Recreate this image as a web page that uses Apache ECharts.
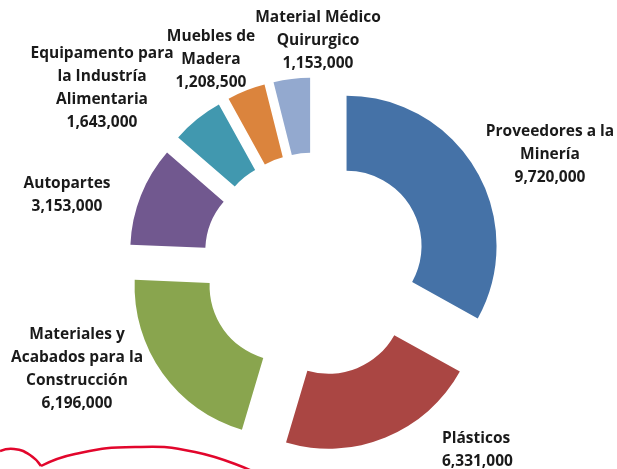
<!DOCTYPE html>
<html>
<head>
<meta charset="utf-8">
<script src="https://cdn.jsdelivr.net/npm/echarts@6/dist/echarts.min.js"></script>
<style>
html, body { margin: 0; padding: 0; background: #fff; }
#chart { width: 617px; height: 469px; }
</style>
</head>
<body>
<div id="chart"></div>
<script>
// sectores (etiquetas ya partidas en renglones como en la lamina)
var categories = [
    'Proveedores a la\nMinería',
    'Plásticos',
    'Materiales y\nAcabados para la\nConstrucción',
    'Autopartes',
    'Equipamento para\nla Industría\nAlimentaria',
    'Muebles de\nMadera',
    'Material Médico\nQuirurgico'
];
var values = [9720000, 6331000, 6196000, 3153000, 1643000, 1208500, 1153000];
var colors = ['#4572A7', '#AA4643', '#89A54E', '#71588F', '#4198AF', '#DB843D', '#93A9CF'];

// donde cae cada etiqueta: [x, y, alineacion]
var labelSpots = [
    [550, 155, 'center'],
    [442, 450, 'left'],
    [77, 369, 'center'],
    [67, 195, 'center'],
    [102, 88, 'center'],
    [211, 60, 'center'],
    [318, 41, 'center']
];

var chart = echarts.init(document.getElementById('chart'));

var pieData = categories.map(function (name, i) {
    return {
        name: name,
        value: values[i],
        selected: true,
        itemStyle: { color: colors[i] }
    };
});

// etiquetas como textos sueltos (el label del pie se mueve con el offset)
var labels = categories.map(function (name, i) {
    var s = labelSpots[i];
    return {
        type: 'text',
        x: s[0],
        y: s[1],
        style: {
            text: name + '\n' + values[i].toLocaleString('en-US'),
            align: s[2],
            verticalAlign: 'middle',
            fontFamily: 'Open Sans',
            fontWeight: 'bold',
            fontSize: 15.5,
            lineHeight: 23,
            fill: '#1a1a1a'
        }
    };
});

var option = {
    animation: false,
    series: [{
        type: 'pie',
        center: ['51%', '56.4%'],
        radius: [75, 150],
        startAngle: 90,
        clockwise: true,
        selectedMode: 'multiple',
        selectedOffset: 37,
        emphasis: { disabled: true },
        data: pieData,
        label: { show: false },
        labelLine: { show: false }
    }],
    graphic: labels.concat([
        {
            type: 'polyline',
            shape: { points: [[0, 451], [14, 449], [30, 455], [41, 466]], smooth: 0.5 },
            style: { stroke: '#E2062C', lineWidth: 2.5, fill: null }
        },
        {
            type: 'polyline',
            shape: { points: [[41, 466], [75, 454], [135, 447], [195, 452], [252, 471]], smooth: 0.5 },
            style: { stroke: '#E2062C', lineWidth: 2.5, fill: null }
        }
    ])
};
chart.setOption(option);
</script>
</body>
</html>
